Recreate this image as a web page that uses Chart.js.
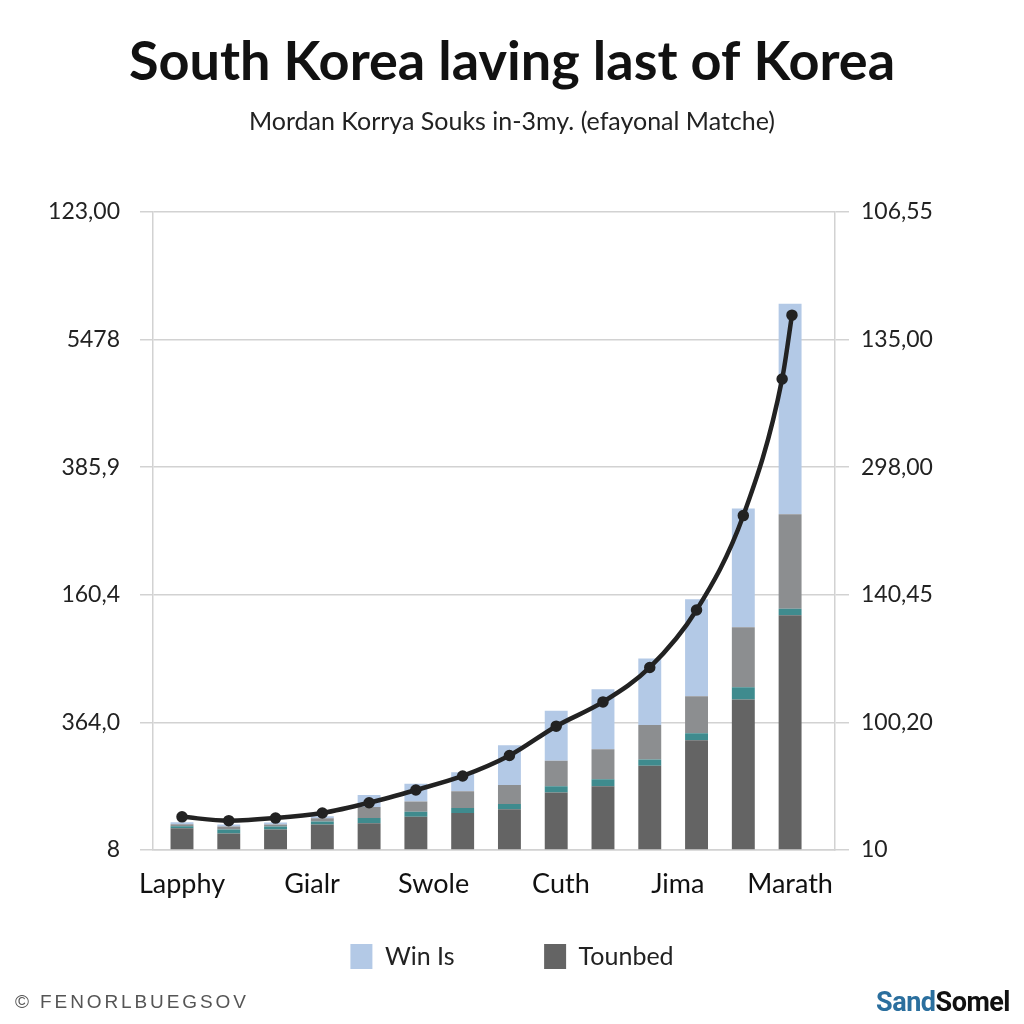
<!DOCTYPE html>
<html>
<head>
<meta charset="utf-8">
<script src="https://cdn.jsdelivr.net/npm/chart.js@4.4.1/dist/chart.umd.min.js"></script>
<style>
  html, body { margin: 0; padding: 0; background: #fff; }
  #wrap { position: relative; width: 1024px; height: 1024px; }
  #foot-left { position: absolute; left: 15px; top: 991px; font: 19px 'Liberation Sans', sans-serif; color: #555; letter-spacing: 2.9px; }
  #foot-right { position: absolute; right: 14px; top: 986px; font: bold 27px Roboto, sans-serif; letter-spacing: -0.5px; color: #111; }
  #foot-right span { color: #2b6f9e; }
</style>
</head>
<body>
<div id="wrap">
  <canvas id="chart"></canvas>
  <div id="foot-left">© FENORLBUEGSOV</div>
  <div id="foot-right"><span>Sand</span>Somel</div>
</div>
<script>
// --- Data ---
const left_labels = ['8', '364,0', '160,4', '385,9', '5478', '123,00'];
const right_labels = ['10', '100,20', '140,45', '298,00', '135,00', '106,55'];
const x_labels = ['Lapphy', 'Gialr', 'Swole', 'Cuth', 'Jima', 'Marath'];
const x_label_pos = [0, 2.78, 5.38, 8.1, 10.6, 13];

const bar_x = [0, 1, 2, 3, 4, 5, 6, 7, 8, 9, 10, 11, 12, 13];
const tounbed = [17, 13, 16, 20, 21, 26, 29, 32, 45, 50, 66, 86, 118, 184];
const teal_part = [1.6, 3, 2.4, 2.4, 4, 4, 4, 4, 5, 5.5, 5, 5.5, 9.5, 5];
const gray_part = [1.6, 2.4, 1.6, 2.4, 8.6, 8, 13, 15, 20, 23.5, 27, 29, 47, 74];
const win_is = [1.6, 1.6, 1.6, 1.6, 9.4, 14, 15, 31, 39, 47, 52, 76, 93, 165];

const line_x = [0, 1, 2, 3, 4, 5, 6, 7, 8, 9, 10, 11, 12, 12.83, 13.04];
const line_y = [26, 23, 25, 29, 37, 47, 58, 74, 97, 116, 143, 188, 262, 369, 419];

// --- Helpers ---
const pts = (xs, ys) => xs.map((x, i) => ({ x, y: ys[i] }));
const bar_ds = (label, values, color) => ({
  type: 'bar', label, data: pts(bar_x, values), backgroundColor: color,
  barPercentage: 0.49, categoryPercentage: 1, yAxisID: 'y', order: 1
});

const grid_color = '#d2d2d2';
const tick_font = { family: 'Lato', size: 23 };
const legend_keep = ['Win Is', 'Tounbed'];

// --- Chart ---
new Chart(document.getElementById('chart'), {
  data: {
    datasets: [
      bar_ds('Tounbed', tounbed, '#646464'),
      bar_ds('Teal', teal_part, '#3f8b8e'),
      bar_ds('Gray', gray_part, '#8c8e90'),
      bar_ds('Win Is', win_is, '#b3c9e6'),
      {
        type: 'line', label: 'Line', data: pts(line_x, line_y), yAxisID: 'y1',
        borderColor: '#222', backgroundColor: '#222', borderWidth: 4.5,
        pointRadius: 3.5, cubicInterpolationMode: 'monotone', fill: false, order: 0
      }
    ]
  },
  options: {
    responsive: true, maintainAspectRatio: false, animation: false,
    layout: { padding: { left: 0, right: 0, top: 0, bottom: 45 } },
    plugins: {
      title: {
        display: true, text: 'South Korea laving last of Korea', color: '#111',
        font: { family: 'Lato', size: 54, weight: 'bold' }, padding: { top: 30, bottom: 0 }
      },
      subtitle: {
        display: true, text: 'Mordan Korrya Souks in-3my. (efayonal Matche)', color: '#222',
        font: { family: 'Lato', size: 25 }, padding: { top: 12, bottom: 75 }
      },
      legend: {
        position: 'bottom',
        labels: {
          color: '#222', font: { family: 'Lato', size: 25 }, boxWidth: 22, boxHeight: 25, padding: 32,
          generateLabels: (chart) => {
            const items = Chart.defaults.plugins.legend.labels.generateLabels(chart);
            items.forEach(it => { if (it.text === 'Win Is') it.text = 'Win Is' + ' '.repeat(9); });
            return items;
          },
          sort: (a, b) => b.datasetIndex - a.datasetIndex,
          filter: (item) => legend_keep.includes(item.text.trim())
        }
      },
      tooltip: { enabled: false }
    },
    scales: {
      x: {
        type: 'linear', min: -0.62, max: 13.96, stacked: true, offset: false,
        afterFit: (scale) => { scale.height = 62; },
        grid: { display: false, drawTicks: false, offset: false },
        border: { display: true, color: grid_color, width: 1.5 },
        afterBuildTicks: (scale) => { scale.ticks = x_label_pos.map(v => ({ value: v })); },
        ticks: {
          autoSkip: false, maxRotation: 0, padding: 18, color: '#111',
          font: { family: 'Lato', size: 27 },
          callback: (v, i) => x_labels[i]
        }
      },
      y: {
        position: 'left', min: 0, max: 500, stacked: true,
        afterFit: (scale) => { scale.width = 153; },
        grid: { color: grid_color, lineWidth: 1.5, tickLength: 13 },
        border: { display: true, color: grid_color, width: 1.5 },
        ticks: { stepSize: 100, padding: 20, color: '#222', font: tick_font, callback: (v, i) => left_labels[i] }
      },
      y1: {
        position: 'right', min: 0, max: 500,
        afterFit: (scale) => { scale.width = 189; },
        grid: { drawOnChartArea: false, color: grid_color, lineWidth: 1.5, tickLength: 14 },
        border: { display: true, color: grid_color, width: 1.5 },
        ticks: { stepSize: 100, padding: 12, color: '#222', font: tick_font, callback: (v, i) => right_labels[i] }
      }
    }
  }
});
</script>
</body>
</html>
